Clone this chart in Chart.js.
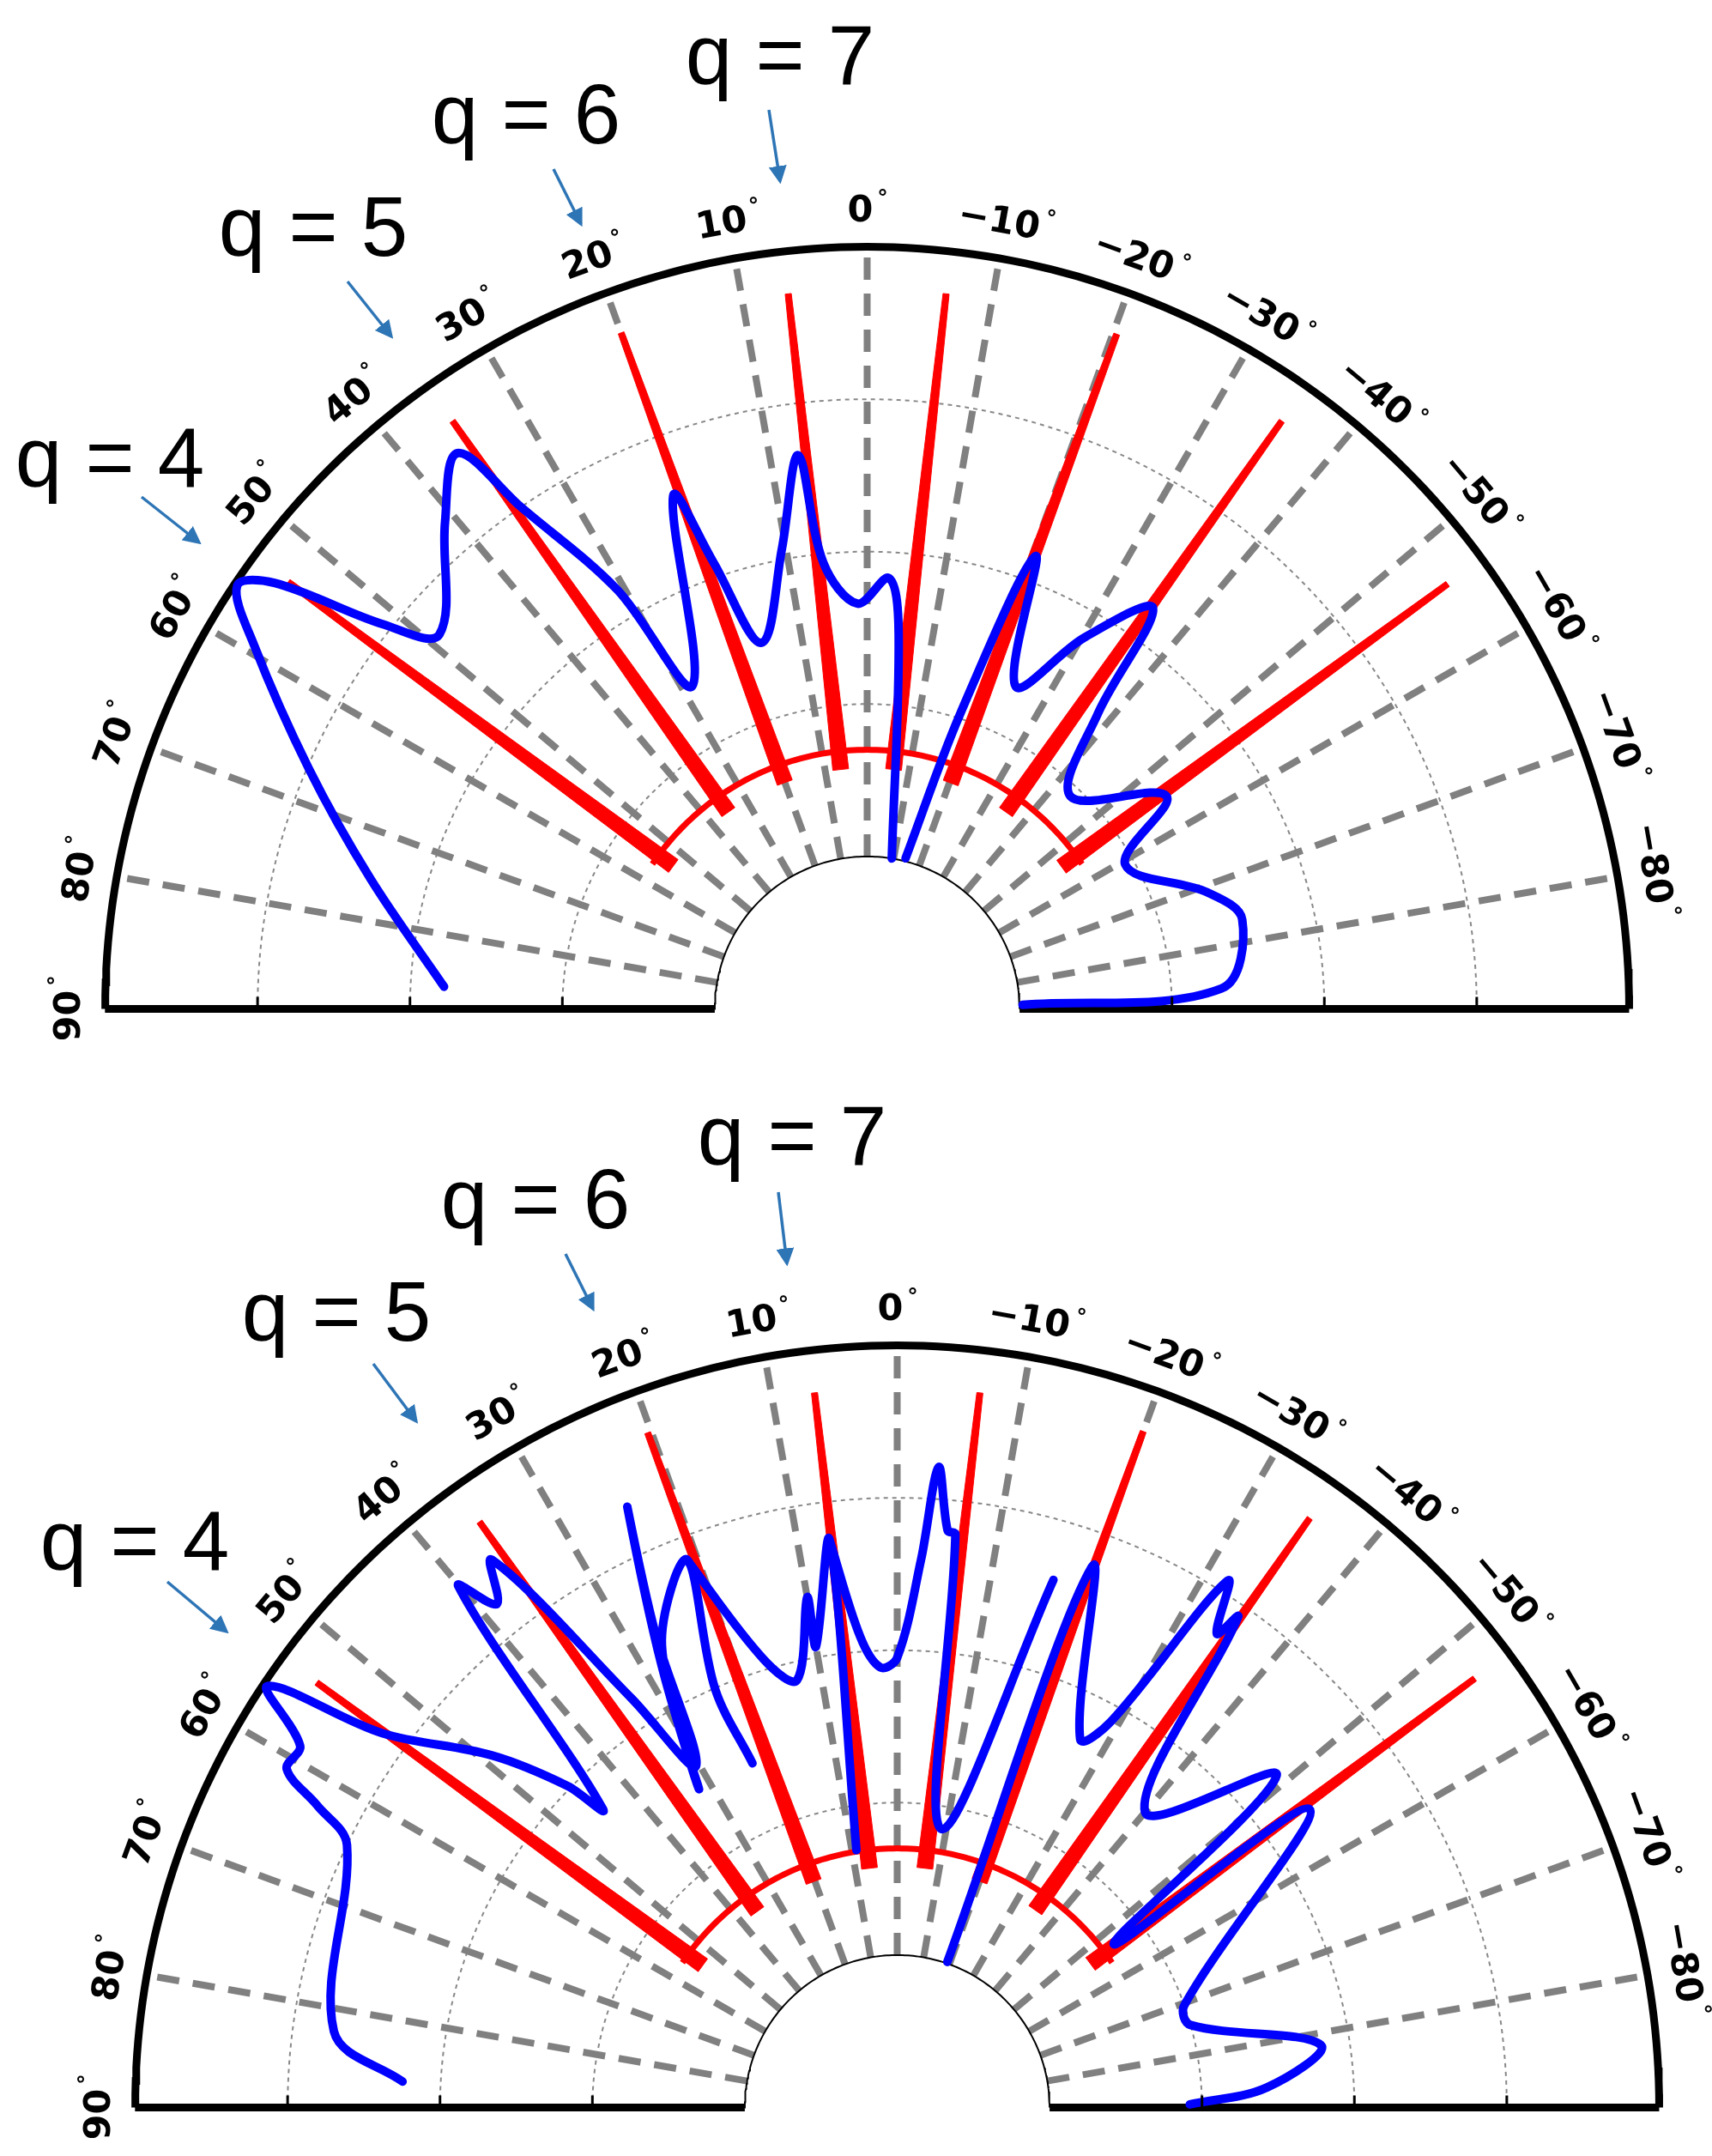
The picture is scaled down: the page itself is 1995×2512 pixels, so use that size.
<!DOCTYPE html>
<html>
<head>
<meta charset="utf-8">
<script src="https://cdn.jsdelivr.net/npm/chart.js@4.4.0/dist/chart.umd.min.js"></script>
<style>
  body { margin: 0; width: 1995px; height: 2512px; overflow: hidden; background: #fff; position: relative; font-family: "Liberation Sans", Arial, sans-serif; }
  canvas { position: absolute; }
  .q { position: absolute; font-size: 98px; color: #000; white-space: nowrap; transform: translate(-50%, -50%); }
  svg { position: absolute; left: 0; top: 0; }
</style>
</head>
<body>
<canvas id="top" width="1989" height="1030" style="left:16px;top:181px;width:1989px;height:1030px"></canvas>
<canvas id="bottom" width="1989" height="1030" style="left:51px;top:1461px;width:1989px;height:1030px"></canvas>
<svg id="arrows" width="1995" height="2512"></svg>
<script>
// angle ticks (deg), radial grid
var tickAngles = [90, 80, 70, 60, 50, 40, 30, 20, 10, 0, -10, -20, -30, -40, -50, -60, -70, -80];
var gridRadii = [2, 3, 4];
var innerR = 1, outerR = 5;
var redArcR = 1.7, redTipR = 4.72;

// top panel
var topRedAngles = [6.3, -6.3, 20, -20.3, 35.2, -35.2, 53.6, -53.8];
var topBlue1Angle = [87, 75.3, 66.7, 59.3, 56.1, 54.3, 51.5, 48.8, 40.9, 36.4, 34.6, 30.8, 28.4, 20.7, 19.0, 16.1, 10.5, 7.1, 5.6, 1.4, -2.9, -4.8, -9.3];
var topBlue1Radius = [2.78, 3.37, 3.99, 4.68, 4.98, 4.79, 4.05, 3.73, 4.23, 4.53, 4.0, 3.2, 2.41, 3.6, 3.1, 2.5, 3.07, 3.66, 2.94, 2.66, 2.83, 2.47, 1.0];
var topBlue2Angle = [-14.3, -17.5, -20.4, -24.7, -30.3, -35.5, -38, -43.7, -54.6, -60.8, -71.1, -76.6, -86.7, -88.5];
var topBlue2Radius = [1.02, 2.03, 3.17, 2.33, 2.82, 3.23, 2.46, 1.93, 2.41, 1.94, 2.36, 2.53, 2.33, 1.02];

// bottom panel
var botRedAngles = [6.6, -6.6, 20.3, -20, 35.5, -35, 53.8, -53.4];
var botBlue1Angle = [87, 82.3, 64.5, 62.5, 61, 58.8, 56.2, 54, 49, 45.7, 44.6, 40.1, 38.5, 36.5, 33, 30.5, 27, 24.2, 28, 31.9, 27, 21, 23.5, 22.8];
var botBlue1Radius = [3.25, 3.73, 4.0, 4.29, 4.58, 4.58, 4.97, 4.18, 3.52, 3.02, 2.75, 4.47, 4.22, 4.47, 3.2, 2.6, 3.5, 4.32, 3.3, 2.46, 3.4, 3.85, 3.0, 2.45];
var botBlue2Angle = [21, 16.6, 13.2, 10, 10, 6.8, 9];
var botBlue2Radius = [3.85, 3.07, 2.88, 3.40, 3.07, 3.75, 1.71];
var botBlue3Angle = [6.8, 4.5, 2.2, 0, -2.5, -3.7, -5, -5.8, -9, -16.5];
var botBlue3Radius = [3.75, 3.1, 2.89, 2.95, 3.6, 4.21, 3.8, 3.78, 1.85, 3.61];
var botBlue4Angle = [-19, -19.8, -26.4, -29, -32.1, -34, -34.8, -40, -48.8, -53, -54.1, -70.4, -74.3, -81.6, -86.9, -89.4];
var botBlue4Radius = [1.01, 3.77, 2.70, 2.9, 4.08, 3.75, 3.92, 2.53, 3.31, 1.78, 3.34, 2.0, 2.0, 2.81, 2.43, 1.92];

// q labels / arrows (page pixels)
var qLabels = ['q = 4', 'q = 5', 'q = 6', 'q = 7', 'q = 4', 'q = 5', 'q = 6', 'q = 7'];
var qLabelPos = [[128, 533], [365, 264], [613, 133], [909, 64], [157, 1795], [392, 1528], [624, 1397], [923, 1323]];
var qArrows = [[165, 579, 232, 632], [405, 328, 456, 392], [645, 197, 677, 261], [896, 128, 909, 211],
               [195, 1843, 264, 1901], [435, 1589, 485, 1656], [659, 1461, 691, 1525], [907, 1389, 917, 1472]];

function toXY(deg, r) {
    var a = deg * Math.PI / 180;
    return {x: -r * Math.sin(a), y: r * Math.cos(a)};
}
function arc(r, from, to) {
    var pts = [];
    for (var d = from; d >= to; d -= 1) pts.push(toXY(d, r));
    return pts;
}
function line(opts, data) {
    return Object.assign({data: data, showLine: true, pointRadius: 0, fill: false, tension: 0}, opts);
}
// tapered red spoke as a closed polygon (half-widths in data units)
function spoke(d, r0, r1, w0, w1) {
    var a = d * Math.PI / 180;
    var nx = Math.cos(a), ny = Math.sin(a);
    var b = toXY(d, r0), t = toXY(d, r1);
    return [
        {x: b.x + nx * w0, y: b.y + ny * w0},
        {x: t.x + nx * w1, y: t.y + ny * w1},
        {x: t.x - nx * w1, y: t.y - ny * w1},
        {x: b.x - nx * w0, y: b.y - ny * w0},
        {x: b.x + nx * w0, y: b.y + ny * w0}
    ];
}

var angleLabels = {
    id: 'angleLabels',
    afterDraw: function(chart) {
        var ctx = chart.ctx, xs = chart.scales.x, ys = chart.scales.y;
        ctx.save();
        ctx.strokeStyle = '#000'; ctx.lineWidth = 3;
        gridRadii.forEach(function(r) {
            [-r, r].forEach(function(x) {
                var px = xs.getPixelForValue(x), py = ys.getPixelForValue(0);
                ctx.beginPath(); ctx.moveTo(px, py); ctx.lineTo(px, py - 14); ctx.stroke();
            });
        });
        ctx.fillStyle = '#000';
        ctx.textAlign = 'center'; ctx.textBaseline = 'middle';
        tickAngles.forEach(function(d) {
            var p = toXY(d, 5.23);
            var px = xs.getPixelForValue(p.x), py = ys.getPixelForValue(p.y);
            ctx.save();
            ctx.translate(px, py);
            ctx.rotate(-d * Math.PI / 180);
            var txt = (d < 0 ? '\u2212' + (-d) : '' + d);
            ctx.font = 'bold 43px "DejaVu Sans"';
            var w = ctx.measureText(txt).width;
            ctx.fillText(txt, -8, 0);
            ctx.font = 'bold 25px "DejaVu Sans"';
            ctx.fillText('\u00b0', w / 2 + 3, -14);
            ctx.restore();
        });
        ctx.restore();
    }
};

function build(id, redAngles, blues) {
    var ds = [];
    gridRadii.forEach(function(r) {
        ds.push(line({borderColor: '#888', borderWidth: 2, borderDash: [5, 5], order: 5}, arc(r, 90, -90)));
    });
    tickAngles.forEach(function(d) {
        if (d === 90) return;
        ds.push(line({borderColor: '#808080', borderWidth: 8, borderDash: [26, 16], order: 4}, [toXY(d, innerR), toXY(d, outerR)]));
    });
    ds.push(line({borderColor: '#000', borderWidth: 2, order: 3}, arc(innerR, 90, -90)));
    ds.push(line({borderColor: '#000', borderWidth: 9, order: 3}, arc(outerR, 90, -90)));
    ds.push(line({borderColor: '#000', borderWidth: 9, order: 3}, [toXY(90, innerR), toXY(90, outerR)]));
    ds.push(line({borderColor: '#000', borderWidth: 9, order: 3}, [toXY(-90, innerR), toXY(-90, outerR)]));
    ds.push(line({borderColor: '#ff0000', borderWidth: 7, order: 2}, arc(redArcR, 56, -56)));
    redAngles.forEach(function(d) {
        ds.push(line({borderColor: '#ff0000', backgroundColor: '#ff0000', borderWidth: 1, fill: 'shape', order: 2},
            spoke(d, redArcR - 0.12, redTipR, 0.052, 0.02)));
    });
    blues.forEach(function(b) {
        var pts = b[0].map(function(a, i) { return toXY(a, b[1][i]); });
        ds.push(line({borderColor: '#0000ff', borderWidth: 10, tension: 0.35, order: 1, borderCapStyle: 'round', borderJoinStyle: 'round'}, pts));
    });
    new Chart(document.getElementById(id), {
        type: 'scatter',
        data: {datasets: ds},
        options: {
            responsive: false, animation: false, devicePixelRatio: 1,
            layout: {padding: 0},
            plugins: {legend: {display: false}, tooltip: {enabled: false}},
            scales: {
                x: {type: 'linear', min: -5.6, max: 5.6, display: false},
                y: {type: 'linear', min: -0.2, max: 5.6, display: false}
            }
        },
        plugins: [angleLabels]
    });
}

build('top', topRedAngles, [[topBlue1Angle, topBlue1Radius], [topBlue2Angle, topBlue2Radius]]);
build('bottom', botRedAngles, [[botBlue1Angle, botBlue1Radius], [botBlue2Angle, botBlue2Radius],
                               [botBlue3Angle, botBlue3Radius], [botBlue4Angle, botBlue4Radius]]);

qLabels.forEach(function(t, i) {
    var d = document.createElement('div');
    d.className = 'q'; d.textContent = t;
    d.style.left = qLabelPos[i][0] + 'px'; d.style.top = qLabelPos[i][1] + 'px';
    document.body.appendChild(d);
});
var svg = document.getElementById('arrows');
var html = '<defs><marker id="ah" markerWidth="6" markerHeight="6" refX="5" refY="3" orient="auto"><path d="M0,0 L6,3 L0,6 z" fill="#2e75b6"/></marker></defs>';
qArrows.forEach(function(a) {
    html += '<line x1="' + a[0] + '" y1="' + a[1] + '" x2="' + a[2] + '" y2="' + a[3] + '" stroke="#2e75b6" stroke-width="3.5" marker-end="url(#ah)"/>';
});
svg.innerHTML = html;
</script>
</body>
</html>
